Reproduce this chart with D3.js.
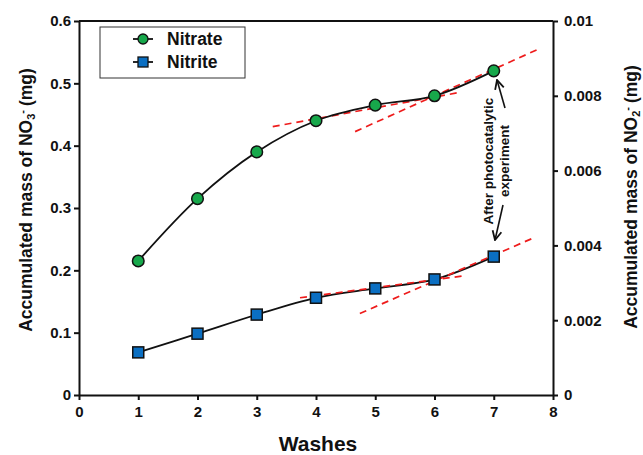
<!DOCTYPE html>
<html>
<head>
<meta charset="utf-8">
<script src="https://cdn.jsdelivr.net/npm/d3@7"></script>
<style>
  body { margin: 0; background: #fff; }
  text { font-family: Arial, "Liberation Sans", sans-serif; font-weight: bold; fill: #111; }
  .axis path, .axis line { stroke: #111; stroke-width: 2; }
  .axis text { font-size: 15px; }
</style>
</head>
<body>
<svg id="chart" width="643" height="455"></svg>
<script>
// data
var washes = [1, 2, 3, 4, 5, 6, 7];
var nitrate = [0.215, 0.315, 0.39, 0.44, 0.465, 0.48, 0.52];        // left axis, mg
var nitrite = [0.00114, 0.00164, 0.00215, 0.0026, 0.00285, 0.00309, 0.0037]; // right axis, mg

// red dashed tangent lines [x, y]
var nitrateTangents = [
  [[3.27, 0.4305], [6.40, 0.485]],
  [[4.66, 0.4225], [7.78, 0.556]]
];
var nitriteTangents = [
  [[3.73, 0.0026], [6.51, 0.00319]],
  [[4.74, 0.00218], [7.67, 0.0042]]
];

var xTicks = [0, 1, 2, 3, 4, 5, 6, 7, 8];
var yLeftTicks = [0, 0.1, 0.2, 0.3, 0.4, 0.5, 0.6];
var yRightTicks = [0, 0.002, 0.004, 0.006, 0.008, 0.01];

var margin = {top: 21, right: 90, bottom: 60, left: 79};
var width = 643, height = 455;
var w = width - margin.left - margin.right;
var h = height - margin.top - margin.bottom;

var svg = d3.select("#chart");
var chart = svg.append("g")
    .attr("transform", "translate(" + margin.left + "," + margin.top + ")");

var x = d3.scaleLinear().domain([0, 8]).range([0, w]);
var yL = d3.scaleLinear().domain([0, 0.6]).range([h, 0]);
var yR = d3.scaleLinear().domain([0, 0.01]).range([h, 0]);

//axes
chart.append("g")
    .attr("class", "axis")
    .attr("transform", "translate(0," + h + ")")
    .call(d3.axisBottom(x).tickValues(xTicks).tickSize(5).tickSizeOuter(0).tickPadding(6).tickFormat(d3.format("d")));

chart.append("g")
    .attr("class", "axis")
    .call(d3.axisLeft(yL).tickValues(yLeftTicks).tickSize(5).tickSizeOuter(0).tickPadding(3)
      .tickFormat(function(d) { return d === 0 ? "0" : d3.format(".1f")(d); }));

chart.append("g")
    .attr("class", "axis")
    .attr("transform", "translate(" + w + ",0)")
    .call(d3.axisRight(yR).tickValues(yRightTicks).tickSize(5).tickSizeOuter(0).tickPadding(6)
      .tickFormat(function(d) { return d === 0 ? "0" : (d === 0.01 ? "0.01" : d3.format(".3f")(d)); }));

// top border
chart.append("line")
    .attr("x1", 0).attr("x2", w).attr("y1", 0).attr("y2", 0)
    .style("stroke", "#111").style("stroke-width", 2);

// axis titles
svg.append("text")
    .attr("x", margin.left + w / 2 + 2)
    .attr("y", 451)
    .attr("text-anchor", "middle")
    .style("font-size", "21px")
    .text("Washes");

function yTitle(tx, ty, sub) {
  var t = svg.append("text")
      .attr("transform", "translate(" + tx + "," + ty + ") rotate(-90)")
      .attr("text-anchor", "middle")
      .style("font-size", "17.5px");
  t.append("tspan").text("Accumulated mass of NO");
  t.append("tspan").attr("baseline-shift", "-25%").style("font-size", "11px").text(sub);
  t.append("tspan").attr("baseline-shift", "55%").style("font-size", "11px").text("-");
  t.append("tspan").attr("dx", 4).text("(mg)");
}
yTitle(32, 200, "3");
yTitle(637, 197, "2");

// tangent lines
var tanLine = d3.line();
nitrateTangents.forEach(function(seg) {
  chart.append("path")
      .attr("d", tanLine(seg.map(function(p) { return [x(p[0]), yL(p[1])]; })))
      .style("stroke", "#ee1c1c").style("stroke-width", 1.7)
      .style("stroke-dasharray", "7,5").style("fill", "none");
});

// curves
var nitrateLine = d3.line()
    .x(function(d, i) { return x(washes[i]); })
    .y(function(d) { return yL(d); })
    .curve(d3.curveCatmullRom.alpha(0.5));
var nitriteLine = d3.line()
    .x(function(d, i) { return x(washes[i]); })
    .y(function(d) { return yR(d); })
    .curve(d3.curveCatmullRom.alpha(0.5));

chart.append("path").attr("d", nitrateLine(nitrate))
    .style("stroke", "#111").style("stroke-width", 1.8).style("fill", "none");
chart.append("path").attr("d", nitriteLine(nitrite))
    .style("stroke", "#111").style("stroke-width", 1.8).style("fill", "none");

nitriteTangents.forEach(function(seg) {
  chart.append("path")
      .attr("d", tanLine(seg.map(function(p) { return [x(p[0]), yR(p[1])]; })))
      .style("stroke", "#ee1c1c").style("stroke-width", 1.7)
      .style("stroke-dasharray", "7,5").style("fill", "none");
});

// markers
chart.selectAll("circle.nitrate")
    .data(nitrate)
  .enter().append("circle")
    .attr("class", "nitrate")
    .attr("cx", function(d, i) { return x(washes[i]); })
    .attr("cy", function(d) { return yL(d); })
    .attr("r", 5.8)
    .style("fill", "#17a84b")
    .style("stroke", "#111").style("stroke-width", 1.5);

chart.selectAll("rect.nitrite")
    .data(nitrite)
  .enter().append("rect")
    .attr("class", "nitrite")
    .attr("x", function(d, i) { return x(washes[i]) - 5.5; })
    .attr("y", function(d) { return yR(d) - 5.5; })
    .attr("width", 11).attr("height", 11)
    .style("fill", "#0b6fc2")
    .style("stroke", "#111").style("stroke-width", 1.5);

// annotation
var ann = svg.append("text")
    .attr("transform", "translate(493,161) rotate(-90)")
    .attr("text-anchor", "middle")
    .style("font-size", "13.5px");
ann.append("tspan").attr("x", 0).attr("dy", 0).text("After photocatalytic");
ann.append("tspan").attr("x", 0).attr("dy", 16).text("experiment");

svg.append("defs").append("marker")
    .attr("id", "arrow")
    .attr("viewBox", "0 0 10 10")
    .attr("refX", 9).attr("refY", 5)
    .attr("markerWidth", 7).attr("markerHeight", 7)
    .attr("orient", "auto")
  .append("path")
    .attr("d", "M1,1 L9,5 L1,9")
    .style("fill", "none").style("stroke", "#111").style("stroke-width", 1.6);

var arrows = [[[505, 108], [497, 80]], [[503, 205], [495, 240]]];
arrows.forEach(function(a) {
  svg.append("line")
      .attr("x1", a[0][0]).attr("y1", a[0][1])
      .attr("x2", a[1][0]).attr("y2", a[1][1])
      .style("stroke", "#111").style("stroke-width", 1.6)
      .attr("marker-end", "url(#arrow)");
});

// legend
var legend = svg.append("g").attr("transform", "translate(100,27)");
legend.append("rect")
    .attr("width", 145).attr("height", 51)
    .style("fill", "#fff").style("stroke", "#333").style("stroke-width", 1);
var items = [{name: "Nitrate", shape: "circle"}, {name: "Nitrite", shape: "square"}];
items.forEach(function(d, i) {
  var g = legend.append("g").attr("transform", "translate(0," + (12 + i * 23) + ")");
  g.append("line").attr("x1", 33).attr("x2", 53).attr("y1", 0).attr("y2", 0)
      .style("stroke", "#111").style("stroke-width", 1.8);
  if (d.shape == "circle") {
    g.append("circle").attr("cx", 43).attr("cy", 0).attr("r", 5)
        .style("fill", "#17a84b").style("stroke", "#111").style("stroke-width", 1.3);
  } else {
    g.append("rect").attr("x", 38).attr("y", -5).attr("width", 10).attr("height", 10)
        .style("fill", "#0b6fc2").style("stroke", "#111").style("stroke-width", 1.3);
  }
  g.append("text").attr("x", 67).attr("y", 6).style("font-size", "17.5px").text(d.name);
});
</script>
</body>
</html>
